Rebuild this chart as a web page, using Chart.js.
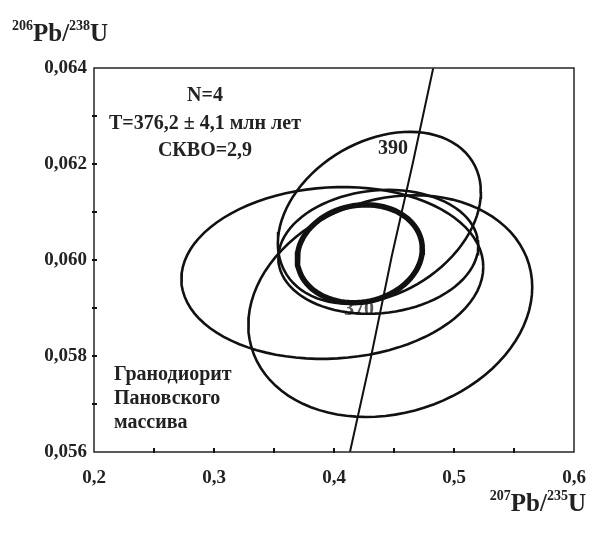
<!DOCTYPE html>
<html>
<head>
<meta charset="utf-8">
<script src="https://cdn.jsdelivr.net/npm/chart.js@4"></script>
<style>
  body { margin: 0; background: #fff; }
  #wrap { width: 597px; height: 534px; }
</style>
</head>
<body>
<div id="wrap"><canvas id="concordia" width="597" height="534"></canvas></div>
<script>
// axis ranges and tick labels
const xMin = 0.2, xMax = 0.6, xStep = 0.05;
const yMin = 0.056, yMax = 0.064, yStep = 0.001;

// concordia curve points (207Pb/235U, 206Pb/238U)
const concordiaX = [0.4133, 0.4310, 0.4483, 0.4655, 0.4827];
const concordiaY = [0.0560, 0.0580, 0.0601, 0.0620, 0.0640];

// error ellipses: centre, half-widths, correlation
const ellipseCx  = [0.3986, 0.4469, 0.4378, 0.4369, 0.4215];
const ellipseCy  = [0.05973, 0.05904, 0.06088, 0.06017, 0.06013];
const ellipseHx  = [0.1258, 0.1183, 0.0846, 0.0833, 0.0521];
const ellipseHy  = [0.00179, 0.00231, 0.00179, 0.00129, 0.00102];
const ellipseRho = [0.07, 0.17, 0.30, 0.10, 0.10];
const ellipseWidth = [2.6, 2.6, 2.6, 2.6, 5.5];

const resultLines = ['N=4', 'T=376,2 \u00b1 4,1 млн лет', 'СКВО=2,9'];
const sampleLines = ['Гранодиорит', 'Пановского', 'массива'];

const SERIF = '"Liberation Serif", "Times New Roman", serif';

function ellipsePoints(i) {
  const pts = [];
  const r = ellipseRho[i];
  const k = Math.sqrt(1 - r * r);
  for (let a = 0; a <= 360; a += 4) {
    const t = a * Math.PI / 180;
    pts.push({
      x: ellipseCx[i] + ellipseHx[i] * Math.cos(t),
      y: ellipseCy[i] + ellipseHy[i] * (r * Math.cos(t) + k * Math.sin(t))
    });
  }
  return pts;
}

const datasets = ellipseCx.map((cx, i) => ({
  data: ellipsePoints(i),
  showLine: true,
  borderColor: '#111',
  borderWidth: ellipseWidth[i],
  pointRadius: 0,
  fill: false,
  tension: 0
}));

datasets.push({
  data: concordiaX.map((x, i) => ({ x, y: concordiaY[i] })),
  showLine: true,
  borderColor: '#111',
  borderWidth: 2,
  pointRadius: 0,
  fill: false
});

function drawSupText(ctx, parts, x, y, align) {
  // parts: [text, isSup]
  const big = 'bold 25px ' + SERIF;
  const small = 'bold 14px ' + SERIF;
  let total = 0;
  parts.forEach(([txt, sup]) => {
    ctx.font = sup ? small : big;
    total += ctx.measureText(txt).width;
  });
  let cx = align === 'right' ? x - total : x;
  ctx.textAlign = 'left';
  ctx.textBaseline = 'alphabetic';
  parts.forEach(([txt, sup]) => {
    ctx.font = sup ? small : big;
    ctx.fillText(txt, cx, sup ? y - 11 : y);
    cx += ctx.measureText(txt).width;
  });
}

const overlayPlugin = {
  id: 'overlay',
  beforeDatasetsDraw(chart) {
    const ctx = chart.ctx;
    ctx.save();
    ctx.fillStyle = '#555';
    ctx.font = 'bold 20px ' + SERIF;
    ctx.textAlign = 'center';
    ctx.fillText('370', 359, 315);
    ctx.restore();
  },
  afterDraw(chart) {
    const ctx = chart.ctx;
    const area = chart.chartArea;
    const xs = chart.scales.x;
    const ys = chart.scales.y;
    ctx.save();

    // frame
    ctx.strokeStyle = '#333';
    ctx.lineWidth = 1.6;
    ctx.strokeRect(area.left, area.top, area.right - area.left, area.bottom - area.top);

    // tick marks
    ctx.lineWidth = 2;
    ctx.strokeStyle = '#111';
    xs.ticks.forEach((t, i) => {
      const px = xs.getPixelForTick(i);
      if (i === 0 || i === xs.ticks.length - 1) return;
      ctx.beginPath();
      ctx.moveTo(px, area.bottom + 1);
      ctx.lineTo(px, area.bottom - 4);
      ctx.stroke();
    });
    ys.ticks.forEach((t, i) => {
      const py = ys.getPixelForTick(i);
      if (i === 0 || i === ys.ticks.length - 1) return;
      ctx.beginPath();
      ctx.moveTo(area.left - 2, py);
      ctx.lineTo(area.left + 3, py);
      ctx.stroke();
    });

    // annotations
    ctx.fillStyle = '#222';
    ctx.font = 'bold 20px ' + SERIF;
    ctx.textAlign = 'center';
    ctx.textBaseline = 'alphabetic';
    resultLines.forEach((line, i) => ctx.fillText(line, 205, 101 + i * 27.5));
    ctx.fillText('390', 393, 154);

    ctx.textAlign = 'left';
    sampleLines.forEach((line, i) => ctx.fillText(line, 114, 380 + i * 24));

    // axis titles
    drawSupText(ctx, [['206', true], ['Pb/', false], ['238', true], ['U', false]], 12, 41, 'left');
    drawSupText(ctx, [['207', true], ['Pb/', false], ['235', true], ['U', false]], 586, 511, 'right');

    ctx.restore();
  }
};

new Chart(document.getElementById('concordia'), {
  type: 'scatter',
  data: { datasets },
  options: {
    responsive: false,
    animation: false,
    layout: { padding: { left: 0, top: 68, right: 23, bottom: 0 } },
    plugins: {
      legend: { display: false },
      tooltip: { enabled: false }
    },
    scales: {
      x: {
        type: 'linear',
        min: xMin,
        max: xMax,
        afterFit: (scale) => { scale.height = 82; scale.paddingRight = 0; },
        grid: { display: false, drawTicks: false },
        border: { display: false },
        ticks: {
          stepSize: xStep,
          padding: 15,
          maxRotation: 0,
          autoSkip: false,
          color: '#222',
          font: { family: SERIF, size: 19, weight: 'bold' },
          callback: (v) => Math.abs(v * 10 - Math.round(v * 10)) < 1e-6 ? v.toFixed(1).replace('.', ',') : ''
        }
      },
      y: {
        type: 'linear',
        min: yMin,
        max: yMax,
        afterFit: (scale) => { scale.width = 94; },
        grid: { display: false, drawTicks: false },
        border: { display: false },
        ticks: {
          stepSize: yStep,
          padding: 7,
          color: '#222',
          font: { family: SERIF, size: 19, weight: 'bold' },
          callback: (v) => Math.round(v * 1000) % 2 === 0 ? v.toFixed(3).replace('.', ',') : ''
        }
      }
    }
  },
  plugins: [overlayPlugin]
});
</script>
</body>
</html>
